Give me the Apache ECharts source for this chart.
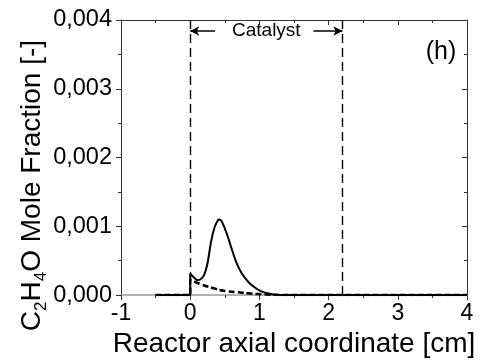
<!DOCTYPE html>
<html><head><meta charset="utf-8">
<script src="https://cdn.jsdelivr.net/npm/echarts@6/dist/echarts.min.js"></script>
<style>html,body{margin:0;padding:0;background:#fff}#c{width:483px;height:363px}</style>
</head><body><div id="c"></div>
<script>
// axis ranges and ticks
const xRange = [-1, 4];
const xStep = 1;
const yRange = [0, 0.004];
const yStep = 0.001;

// solid curve (C2H4O, total)
const solidX = [-0.5, 0, 0, 0.05, 0.1, 0.15, 0.2, 0.25, 0.3, 0.35, 0.4, 0.42, 0.45, 0.5, 0.55, 0.6, 0.65, 0.7, 0.75, 0.8, 0.87, 0.95, 1.0, 1.1, 1.2, 1.4, 4];
const solidY = [0, 0, 0.00031, 0.00026, 0.00022, 0.00023, 0.00029, 0.00046, 0.00077, 0.00098, 0.00109, 0.0011, 0.00108, 0.00097, 0.00083, 0.00067, 0.00052, 0.0004, 0.00031, 0.00024, 0.00016, 0.0001, 0.00007, 0.00003, 0.00001, 0, 0];

// dashed curve
const dashX = [-0.5, 0, 0, 0.1, 0.2, 0.3, 0.4, 0.5, 0.6, 0.7, 0.8, 0.9, 1.0, 1.2, 1.4, 4];
const dashY = [0, 0, 0.00022, 0.00018, 0.00014, 0.00011, 0.00008, 0.00006, 0.00005, 0.00004, 0.00003, 0.00002, 0.000015, 0.000005, 0, 0];

// catalyst zone
const catalystBounds = [0, 2.2];
const arrowY = 0.00384;
const arrowInner = [0.36, 1.78];
const catalystLabel = 'Catalyst';
const panelLabel = '(h)';
const xTitle = 'Reactor axial coordinate [cm]';

const zip = (xs, ys) => xs.map((x, i) => [x, ys[i]]);
const FONT = '"Liberation Sans", Arial, sans-serif';
const frame = '#333';

const chart = echarts.init(document.getElementById('c'), null, {renderer: 'canvas'});

const option = {
  animation: false,
  backgroundColor: '#fff',
  grid: {left: 121, right: 16, top: 20, bottom: 65},
  xAxis: [{
    type: 'value', position: 'bottom', min: xRange[0], max: xRange[1], interval: xStep,
    axisLine: {onZero: false, lineStyle: {color: '#999', width: 1.5}},
    axisTick: {inside: false, length: 5, lineStyle: {color: frame}},
    minorTick: {show: true, splitNumber: 2, length: 3, lineStyle: {color: frame}},
    splitLine: {show: false},
    axisLabel: {margin: 7, color: '#000', fontSize: 23, fontFamily: FONT},
    name: xTitle, nameLocation: 'middle', nameGap: 31,
    nameTextStyle: {color: '#000', fontSize: 28, fontFamily: FONT}
  }, {
    type: 'value', position: 'top', min: xRange[0], max: xRange[1], interval: xStep,
    axisLine: {onZero: false, lineStyle: {color: frame}},
    axisTick: {inside: true, length: 5, lineStyle: {color: frame}},
    minorTick: {show: true, splitNumber: 2, length: 3, lineStyle: {color: frame}},
    splitLine: {show: false}, axisLabel: {show: false}
  }],
  yAxis: [{
    type: 'value', position: 'left', min: yRange[0], max: yRange[1], interval: yStep,
    axisLine: {onZero: false, lineStyle: {color: frame}},
    axisTick: {inside: false, length: 5, lineStyle: {color: frame}},
    minorTick: {show: true, splitNumber: 2, length: 3, lineStyle: {color: frame}},
    splitLine: {show: false},
    axisLabel: {margin: 9, color: '#000', fontSize: 23.5, fontFamily: FONT,
      formatter: v => v.toFixed(3).replace('.', ',')}
  }, {
    type: 'value', position: 'right', min: yRange[0], max: yRange[1], interval: yStep,
    axisLine: {onZero: false, lineStyle: {color: frame}},
    axisTick: {inside: true, length: 5, lineStyle: {color: frame}},
    minorTick: {show: true, splitNumber: 2, length: 3, lineStyle: {color: frame}},
    splitLine: {show: false}, axisLabel: {show: false}
  }],
  series: [{
    type: 'line', name: 'solid', data: zip(solidX, solidY), showSymbol: false, smooth: 0.2,
    lineStyle: {color: '#000', width: 2},
    markLine: {
      silent: true, symbol: ['none', 'none'], label: {show: false},
      lineStyle: {color: '#000', type: [9, 5], width: 1.4},
      data: catalystBounds.map(b => ({xAxis: b}))
    }
  }, {
    type: 'line', name: 'dashed', data: zip(dashX, dashY), showSymbol: false, smooth: 0.2,
    lineStyle: {color: '#000', width: 2.5, type: [6, 3]},
    markLine: {
      silent: true, label: {show: false}, symbolSize: [7, 9],
      lineStyle: {color: '#000', type: 'solid', width: 1.5},
      data: [
        [{coord: [arrowInner[0], arrowY], symbol: 'none'}, {coord: [catalystBounds[0], arrowY], symbol: 'arrow'}],
        [{coord: [arrowInner[1], arrowY], symbol: 'none'}, {coord: [catalystBounds[1], arrowY], symbol: 'arrow'}]
      ]
    }
  }]
};
chart.setOption(option);

const cx = chart.convertToPixel({xAxisIndex: 0}, (catalystBounds[0] + catalystBounds[1]) / 2);
const cy = chart.convertToPixel({yAxisIndex: 0}, arrowY);
const gx = chart.convertToPixel({xAxisIndex: 0}, xRange[1]);
const gyTop = chart.convertToPixel({yAxisIndex: 0}, yRange[1]);
const gyBot = chart.convertToPixel({yAxisIndex: 0}, yRange[0]);

chart.setOption({
  graphic: [{
    type: 'text', x: cx, y: cy,
    style: {text: catalystLabel, fill: '#000', font: '19px ' + FONT, align: 'center', verticalAlign: 'middle'}
  }, {
    type: 'text', x: gx - 26, y: gyTop + 32,
    style: {text: panelLabel, fill: '#000', font: '25px ' + FONT, align: 'center', verticalAlign: 'middle'}
  }, {
    type: 'text', x: 34, y: (gyTop + gyBot) / 2 + 28, rotation: Math.PI / 2,
    style: {
      text: '{n|C}{s|2}{n|H}{s|4}{n|O Mole Fraction [-]}',
      align: 'center', verticalAlign: 'middle',
      rich: {
        n: {fontSize: 28, fontFamily: FONT, fill: '#000', lineHeight: 28, verticalAlign: 'top'},
        s: {fontSize: 17, fontFamily: FONT, fill: '#000', lineHeight: 32, verticalAlign: 'bottom'}
      }
    }
  }]
});
</script>
</body></html>
